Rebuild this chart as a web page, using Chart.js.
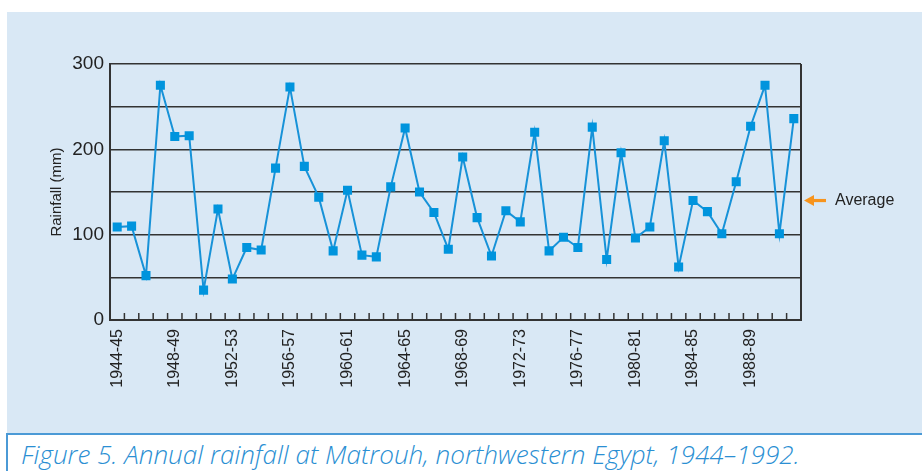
<!DOCTYPE html>
<html>
<head>
<meta charset="utf-8">
<script src="https://cdn.jsdelivr.net/npm/chart.js@4/dist/chart.umd.min.js"></script>
<style>
  html, body { margin: 0; padding: 0; background: #ffffff; width: 922px; height: 471px; overflow: hidden; }
  #panel { position: absolute; left: 7px; top: 12px; width: 915px; height: 421px; background: #d9e8f5; border-bottom: 2px solid #4b9ad6; }
  #capbar { position: absolute; left: 6px; top: 433px; width: 2px; height: 38px; background: #4b9ad6; }
  #caption { position: absolute; left: 21px; top: 441px; font-family: "Open Sans", sans-serif; font-style: italic; font-weight: 300; font-size: 22px; color: #2b8fd3; white-space: nowrap; line-height: 26px; }
  #c { position: absolute; left: 0; top: 0; }
</style>
</head>
<body>
<div id="panel"></div>
<div id="capbar"></div>
<div id="caption">Figure 5. Annual rainfall at Matrouh, northwestern Egypt, 1944–1992.</div>
<canvas id="c" width="922" height="471"></canvas>
<script>
const seasons = [
  "1944-45","1945-46","1946-47","1947-48","1948-49","1949-50","1950-51","1951-52",
  "1952-53","1953-54","1954-55","1955-56","1956-57","1957-58","1958-59","1959-60",
  "1960-61","1961-62","1962-63","1963-64","1964-65","1965-66","1966-67","1967-68",
  "1968-69","1969-70","1970-71","1971-72","1972-73","1973-74","1974-75","1975-76",
  "1976-77","1977-78","1978-79","1979-80","1980-81","1981-82","1982-83","1983-84",
  "1984-85","1985-86","1986-87","1987-88","1988-89","1989-90","1990-91","1991-92"
];
const rainfall = [
  109,110,52,275,215,216,35,130,
  48,85,82,178,273,180,144,81,
  152,76,74,156,225,150,126,83,
  191,120,75,128,115,220,81,97,
  85,226,71,196,96,109,210,62,
  140,127,101,162,227,275,101,236
];
const labeledSeasons = ["1944-45","1948-49","1952-53","1956-57","1960-61","1964-65","1968-69","1972-73","1976-77","1980-81","1984-85","1988-89"];
const yTickLabels = [0, 100, 200, 300];
const averageRainfall = 140;
const averageLabel = "Average";

// fit caption width to the reference (~779px)
(function(){
  const cap = document.getElementById('caption');
  const w = cap.getBoundingClientRect().width;
  if (w > 0) cap.style.fontSize = (22 * 779 / w).toFixed(2) + 'px';
})();

const overlay = {
  id: 'overlay',
  afterDraw(chart) {
    const ctx = chart.ctx;
    const xs = chart.scales.x, ys = chart.scales.y;
    const a = chart.chartArea;
    ctx.save();
    // right border
    ctx.strokeStyle = '#333333';
    ctx.lineWidth = 2;
    ctx.beginPath();
    ctx.moveTo(a.right, a.top);
    ctx.lineTo(a.right, a.bottom);
    ctx.stroke();
    // inside tick marks at category boundaries
    ctx.lineWidth = 1.5;
    const n = seasons.length;
    const step = xs.getPixelForValue(1) - xs.getPixelForValue(0);
    for (let i = 0; i <= n; i++) {
      const x = xs.getPixelForValue(0) - step / 2 + i * step;
      ctx.beginPath();
      ctx.moveTo(x, a.bottom);
      ctx.lineTo(x, a.bottom - 7);
      ctx.stroke();
    }
    // average arrow
    const y = ys.getPixelForValue(averageRainfall);
    const tip = a.right + 3;
    ctx.fillStyle = '#f7941d';
    ctx.beginPath();
    ctx.moveTo(tip, y);
    ctx.lineTo(tip + 10, y - 5.5);
    ctx.lineTo(tip + 10, y + 5.5);
    ctx.closePath();
    ctx.fill();
    ctx.fillRect(tip + 9, y - 1.6, 13, 3.2);
    ctx.fillStyle = '#222222';
    ctx.font = '16px "Liberation Sans", Arial, sans-serif';
    ctx.textBaseline = 'middle';
    ctx.textAlign = 'left';
    ctx.fillText(averageLabel, tip + 31, y);
    ctx.restore();
  }
};

new Chart(document.getElementById('c'), {
  type: 'line',
  data: {
    labels: seasons,
    datasets: [{
      data: rainfall,
      borderColor: '#1792d8',
      backgroundColor: '#0094dd',
      borderWidth: 2,
      pointStyle: 'rect',
      pointRadius: 6.4,
      pointBorderWidth: 0,
      pointBackgroundColor: '#0094dd',
      tension: 0,
      fill: false
    }]
  },
  options: {
    responsive: false,
    animation: false,
    devicePixelRatio: 1,
    layout: { padding: { left: 0, top: 64, right: 121, bottom: 51 } },
    plugins: { legend: { display: false }, tooltip: { enabled: false } },
    scales: {
      x: {
        type: 'category',
        offset: true,
        grid: { display: true, drawOnChartArea: false, drawTicks: false, offset: true },
        border: { display: true, color: '#333333', width: 2 },
        ticks: {
          autoSkip: false,
          maxRotation: 90,
          minRotation: 90,
          padding: 9,
          color: '#222222',
          font: { family: '"Liberation Sans", Arial, sans-serif', size: 16 },
          callback: function(v, i) { const s = seasons[i]; return labeledSeasons.includes(s) ? s : ''; }
        },
        afterFit: function(scale) { scale.height = 100; }
      },
      y: {
        min: 0,
        max: 300,
        grid: { color: '#333333', lineWidth: 1.5, drawTicks: false },
        border: { display: true, color: '#333333', width: 2 },
        ticks: {
          stepSize: 50,
          padding: 6,
          color: '#222222',
          font: { family: '"Liberation Sans", Arial, sans-serif', size: 19 },
          callback: function(v) { return yTickLabels.includes(v) ? String(v) : ''; }
        },
        title: {
          display: true,
          text: 'Rainfall (mm)',
          color: '#222222',
          font: { family: '"Liberation Sans", Arial, sans-serif', size: 15 },
          padding: { top: 48, bottom: 0 }
        },
        afterFit: function(scale) { scale.width = 110; }
      }
    }
  },
  plugins: [overlay]
});
</script>
</body>
</html>
